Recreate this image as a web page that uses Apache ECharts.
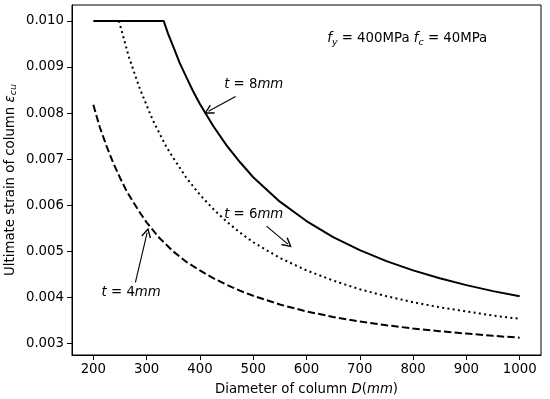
<!DOCTYPE html>
<html>
<head>
<meta charset="utf-8">
<script src="https://cdn.jsdelivr.net/npm/echarts@6/dist/echarts.min.js"></script>
<style>html,body{margin:0;padding:0;background:#fff;}#c{width:550px;height:399px;}</style>
</head>
<body>
<div id="c"></div>
<script>
// Data
const xTicks = [200, 300, 400, 500, 600, 700, 800, 900, 1000];
const yTicks = [0.003, 0.004, 0.005, 0.006, 0.007, 0.008, 0.009, 0.010];

const t8_D = [200, 250, 300, 332, 340, 350, 362, 375, 387, 400, 425, 450, 475, 500, 550, 600, 650, 700, 750, 800, 850, 900, 950, 1000];
const t8_eps = [0.0100, 0.0100, 0.0100, 0.0100, 0.00973, 0.00944, 0.00909, 0.00877, 0.00848, 0.00820, 0.00772, 0.00730, 0.00694, 0.00661, 0.00608, 0.00566, 0.00531, 0.00503, 0.00479, 0.00459, 0.00442, 0.00427, 0.00414, 0.00403];

const t6_D = [248, 254, 260, 267, 275, 287, 300, 312, 325, 337, 350, 375, 400, 425, 450, 475, 500, 550, 600, 650, 700, 750, 800, 850, 900, 950, 1000];
const t6_eps = [0.0100, 0.00975, 0.00950, 0.00921, 0.00894, 0.00854, 0.00817, 0.00784, 0.00754, 0.00727, 0.00703, 0.00659, 0.00623, 0.00592, 0.00565, 0.00541, 0.00520, 0.00486, 0.00459, 0.00437, 0.00418, 0.00403, 0.00390, 0.00379, 0.00370, 0.00361, 0.00354];

const t4_D = [200, 212, 225, 237, 250, 262, 275, 287, 300, 325, 350, 375, 400, 425, 450, 475, 500, 550, 600, 650, 700, 750, 800, 850, 900, 950, 1000];
const t4_eps = [0.00818, 0.00770, 0.00728, 0.00693, 0.00660, 0.00632, 0.00607, 0.00585, 0.00563, 0.00528, 0.00500, 0.00477, 0.00459, 0.00442, 0.00428, 0.00415, 0.00404, 0.00385, 0.00370, 0.00358, 0.00348, 0.00340, 0.00333, 0.00327, 0.00322, 0.00317, 0.00313];

// annotation anchors (data coords)
const ann8 = {text: [501, 0.00861], from: [467, 0.00836], to: [416, 0.00804]};
const ann6 = {text: [501, 0.00581], from: [525, 0.00555], to: [565, 0.00516]};
const ann4 = {text: [271, 0.00412], from: [279, 0.00433], to: [301, 0.00541]};
const annTitle = [789, 0.00961];

const zip = (a, b) => a.map((v, i) => [v, b[i]]);
const FONT = 'DejaVu Sans';
const FS = 13.3;
const arrowPath = 'path://M5,0 L10,8.6 L8.8,9.4 L5,2.6 L1.2,9.4 L0,8.6 Z';

function arrowLine(a) {
  return [{coord: a.from, symbol: 'none'}, {coord: a.to, symbol: arrowPath, symbolSize: [10, 10]}];
}

const chart = echarts.init(document.getElementById('c'), null, {renderer: 'canvas'});
const option = {
  backgroundColor: '#fff',
  animation: false,
  grid: {left: 72, right: 9, top: 5, bottom: 44, show: true, borderColor: '#000', borderWidth: 1,
    backgroundColor: 'transparent', containLabel: false, outerBoundsMode: 'none'},
  xAxis: {
    type: 'value', min: 160, max: 1040,
    name: '{n|Diameter of column }{i|D}{n|(}{i|mm}{n|)}',
    nameLocation: 'middle', nameGap: 28, nameMoveOverlap: false,
    nameTextStyle: {rich: {
      n: {fontFamily: FONT, fontSize: FS, color: '#000'},
      i: {fontFamily: FONT, fontSize: FS, fontStyle: 'italic', color: '#000'}
    }},
    axisLine: {show: true, lineStyle: {color: '#000', width: 1}},
    axisTick: {show: true, length: 5, customValues: xTicks, lineStyle: {color: '#000'}},
    axisLabel: {customValues: xTicks, fontFamily: FONT, fontSize: FS, color: '#000', margin: 8,
      formatter: v => String(v)},
    splitLine: {show: false}
  },
  yAxis: {
    type: 'value', min: 0.002755, max: 0.010345,
    name: '{n|Ultimate strain of column }{i|ε}{s|cu}',
    nameLocation: 'middle', nameGap: 53, nameMoveOverlap: false,
    nameTextStyle: {rich: {
      n: {fontFamily: FONT, fontSize: FS, color: '#000'},
      i: {fontFamily: FONT, fontSize: FS, fontStyle: 'italic', color: '#000'},
      s: {fontFamily: FONT, fontSize: 9.5, fontStyle: 'italic', color: '#000', verticalAlign: 'bottom', padding: [6, 0, 0, 0]}
    }},
    axisLine: {show: true, lineStyle: {color: '#000', width: 1}},
    axisTick: {show: true, length: 5, customValues: yTicks, lineStyle: {color: '#000'}},
    axisLabel: {customValues: yTicks, fontFamily: FONT, fontSize: FS, color: '#000', margin: 8,
      formatter: v => v.toFixed(3)},
    splitLine: {show: false}
  },
  series: [
    {type: 'line', name: 't=8mm', data: zip(t8_D, t8_eps), showSymbol: false, symbol: 'none',
      lineStyle: {color: '#000', width: 2, type: 'solid'},
      markLine: {silent: true, animation: false, label: {show: false},
        lineStyle: {color: '#000', width: 1.1, type: 'solid'},
        data: [arrowLine(ann8), arrowLine(ann6), arrowLine(ann4)]}},
    {type: 'line', name: 't=6mm', data: zip(t6_D, t6_eps), showSymbol: false, symbol: 'none',
      lineStyle: {color: '#000', width: 2, type: [2, 3.3]}},
    {type: 'line', name: 't=4mm', data: zip(t4_D, t4_eps), showSymbol: false, symbol: 'none',
      lineStyle: {color: '#000', width: 2, type: [7.4, 3.2]}}
  ]
};
chart.setOption(option);

const richMath = {
  n: {fontFamily: FONT, fontSize: FS, color: '#000'},
  i: {fontFamily: FONT, fontSize: FS, fontStyle: 'italic', color: '#000'},
  s: {fontFamily: FONT, fontSize: 9.5, fontStyle: 'italic', color: '#000', padding: [7, 0, 0, 0]}
};
function txt(pos, str) {
  const p = chart.convertToPixel({gridIndex: 0}, pos);
  return {type: 'text', x: p[0], y: p[1], style: {text: str, rich: richMath, align: 'center', verticalAlign: 'middle'}, z: 10};
}
chart.setOption({graphic: [
  txt(ann8.text, '{i|t}{n| = 8}{i|mm}'),
  txt(ann6.text, '{i|t}{n| = 6}{i|mm}'),
  txt(ann4.text, '{i|t}{n| = 4}{i|mm}'),
  txt(annTitle, '{i|f}{s|y}{n| = 400MPa }{i|f}{s|c}{n| = 40MPa}')
]});
</script>
</body>
</html>
